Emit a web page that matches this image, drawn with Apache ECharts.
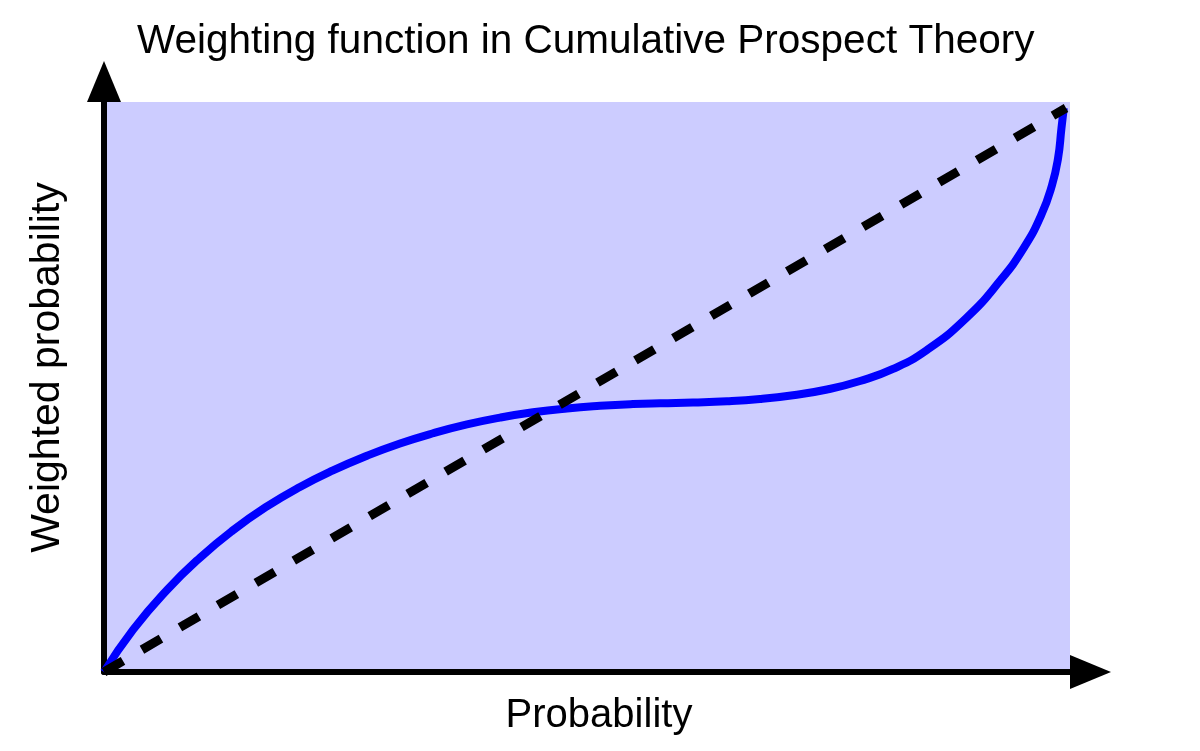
<!DOCTYPE html>
<html>
<head>
<meta charset="utf-8">
<script src="https://cdn.jsdelivr.net/npm/echarts@6/dist/echarts.min.js"></script>
<style>html,body{margin:0;padding:0;background:#fff;}#c{width:1200px;height:751px;}</style>
</head>
<body>
<div id="c"></div>
<script>
var titleText = 'Weighting function in Cumulative Prospect Theory';
var xName = 'Probability';
var yName = 'Weighted probability';
var probability = [0, 0.0301, 0.0655, 0.0998, 0.1341, 0.1694, 0.2037, 0.2380, 0.2734, 0.3077, 0.3420, 0.3773, 0.4116, 0.4459, 0.4813, 0.5156, 0.5499, 0.5780, 0.6123, 0.6476, 0.6819, 0.7162, 0.7516, 0.7859, 0.8202, 0.8555, 0.8960, 0.9314, 0.9563, 0.9740, 0.9854, 0.9917, 0.9953, 0.9977];
var weighted = [0, 0.0746, 0.1453, 0.2027, 0.2513, 0.2936, 0.3282, 0.3575, 0.3835, 0.4052, 0.4233, 0.4389, 0.4510, 0.4604, 0.4673, 0.4719, 0.4751, 0.4766, 0.4778, 0.4799, 0.4840, 0.4908, 0.5009, 0.5160, 0.5373, 0.5710, 0.6270, 0.6936, 0.7524, 0.8091, 0.8629, 0.9105, 0.9645, 1.0];
var diagX = [0, 1];
var diagY = [0, 1];

var curve = probability.map(function (p, i) { return [p, weighted[i]]; });
var diag = diagX.map(function (p, i) { return [p, diagY[i]]; });

var chart = echarts.init(document.getElementById('c'), null, {renderer: 'canvas'});
var font = '"Liberation Sans", Arial, sans-serif';
chart.setOption({
  animation: false,
  title: {
    text: titleText, left: 132, top: 16,
    textStyle: {fontFamily: font, fontSize: 40.5, fontWeight: 'normal', color: '#000'}
  },
  grid: {
    left: 104, top: 102, width: 966, height: 570,
    show: true, backgroundColor: '#ccccff', borderWidth: 0
  },
  xAxis: {
    type: 'value', min: 0, max: 966 / 962,
    name: xName, nameLocation: 'middle', nameGap: 24,
    nameTextStyle: {fontFamily: font, fontSize: 40, color: '#000', padding: [0, 0, 0, 24]},
    axisLine: {show: true, lineStyle: {color: '#000', width: 6}, symbol: ['none', 'triangle'], symbolSize: [34, 41], symbolOffset: [0, 20.5]},
    axisTick: {show: false}, axisLabel: {show: false}, splitLine: {show: false}
  },
  yAxis: {
    type: 'value', min: 0, max: 570 / 564,
    name: yName, nameLocation: 'middle', nameGap: 36,
    nameTextStyle: {fontFamily: font, fontSize: 41, color: '#000', padding: [0, 0, 0, 39]},
    axisLine: {show: true, lineStyle: {color: '#000', width: 6}, symbol: ['none', 'triangle'], symbolSize: [34, 41], symbolOffset: [0, 20.5]},
    axisTick: {show: false}, axisLabel: {show: false}, splitLine: {show: false}
  },
  series: [
    {
      type: 'line', data: curve, smooth: 0.5, showSymbol: false, symbol: 'none',
      lineStyle: {color: '#0000ff', width: 8}, z: 2
    },
    {
      type: 'line', data: diag, showSymbol: false, symbol: 'none',
      lineStyle: {color: '#000', width: 9, type: [22, 22], cap: 'butt'}, z: 3
    }
  ]
});
</script>
</body>
</html>
